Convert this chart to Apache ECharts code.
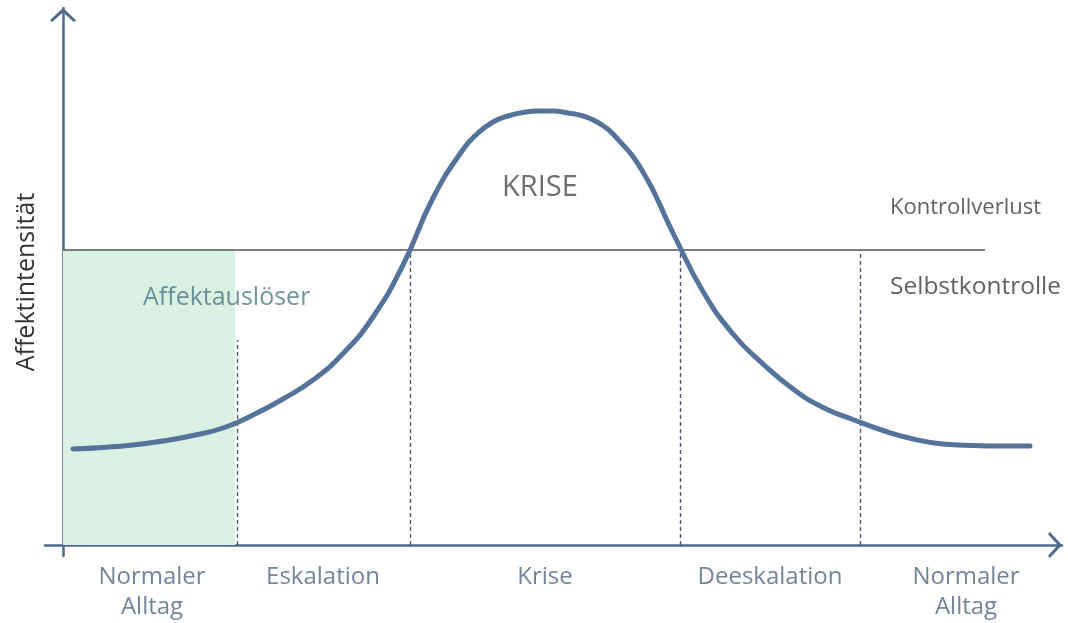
<!DOCTYPE html>
<html>
<head>
<meta charset="utf-8">
<script src="https://cdn.jsdelivr.net/npm/echarts@6/dist/echarts.min.js"></script>
<style>html,body{margin:0;padding:0;background:#fff}#c{width:1068px;height:623px}</style>
</head>
<body>
<div id="c"></div>
<script>
// Affect curve (x: time, y: affect intensity)
const curveX = [1.0, 4.0, 7.0, 10.0, 13.0, 16.0, 19.0, 22.0, 25.0, 28.0, 31.0, 34.0, 37.0, 40.0, 41.5, 43.0, 44.5, 46.0, 47.5, 49.0, 50.5, 52.0, 53.5, 55.0, 58.0, 61.0, 64.0, 67.0, 70.0, 73.0, 76.0, 79.0, 82.0, 85.0, 88.0, 91.0, 94.0, 96.7];
const curveY = [19.2, 19.5, 20.0, 20.8, 21.9, 23.4, 26.0, 29.2, 33.0, 38.3, 45.6, 56.0, 69.4, 79.1, 82.4, 84.6, 85.8, 86.5, 86.8, 86.8, 86.4, 85.8, 84.5, 82.2, 74.6, 62.4, 50.7, 42.2, 36.2, 31.2, 27.5, 25.1, 22.9, 21.2, 20.2, 19.9, 19.8, 19.8];
// Phases
const phaseNames = ['Normaler\nAlltag', 'Eskalation', 'Krise', 'Deeskalation', 'Normaler\nAlltag'];
const phaseLabelX = [8.9, 26.0, 48.2, 70.7, 90.3];
const phaseBounds = [17.4, 34.7, 61.7, 79.7];
const boundTops = [41, 59, 59, 59];
// Threshold (Kontrollverlust / Selbstkontrolle)
const threshold = 59;
const thresholdEnd = 92.2;
const triggerZoneEnd = 17.2;
// Annotations
const annoTexts = ['KRISE', 'Kontrollverlust', 'Selbstkontrolle', 'Affektauslöser'];
const annoX = [47.7, 82.7, 82.7, 8.0];
const annoY = [71.4, 67.4, 51.6, 49.4];
const yAxisName = 'Affektintensität';

const FONT = '"Open Sans", Lato, sans-serif';
const AXIS_COLOR = '#4f6a8c';
const chevron = 'path://M14,0 L28,13 L25.5,15 L14,4.5 L2.5,15 L0,13 Z';

const chart = echarts.init(document.getElementById('c'), null, {renderer: 'canvas'});

const boundLines = phaseBounds.map((b, i) => [{coord: [b, 0]}, {coord: [b, boundTops[i]]}]);

const annoStyles = [
  {color: '#4a4a4a', fontSize: 29, position: 'inside'},
  {color: '#3a3a3a', fontSize: 22, position: 'right'},
  {color: '#3a3a3a', fontSize: 24.5, position: 'right'},
  {color: '#4d7883', fontSize: 25, position: 'right'}
];

const option = {
  backgroundColor: '#fff',
  animation: false,
  grid: {left: 45, right: 6, top: 8, bottom: 67, outerBoundsMode: 'none', containLabel: false},
  xAxis: {
    type: 'value', min: -1.8, max: 99.9,
    splitLine: {show: false}, axisTick: {show: false}, axisLabel: {show: false},
    axisLine: {show: true, onZero: true, symbol: ['none', chevron], symbolSize: [28, 14], symbolOffset: [0, -7],
      lineStyle: {color: AXIS_COLOR, width: 2.5}}
  },
  yAxis: {
    type: 'value', min: -2.2, max: 107.4,
    name: yAxisName, nameLocation: 'middle', nameRotate: 90, nameGap: 6,
    nameTextStyle: {color: '#333', fontSize: 25, fontFamily: FONT},
    splitLine: {show: false}, axisTick: {show: false}, axisLabel: {show: false},
    axisLine: {show: true, onZero: true, symbol: ['none', chevron], symbolSize: [28, 14], symbolOffset: [0, -7],
      lineStyle: {color: AXIS_COLOR, width: 2.5}}
  },
  series: [
    {
      type: 'line', data: [], z: 1, silent: true,
      markArea: {silent: true, itemStyle: {color: '#d8f1e3'},
        data: [[{coord: [0, 0]}, {coord: [triggerZoneEnd, threshold]}]]}
    },
    {
      type: 'line', data: [], z: 2, silent: true,
      markLine: {silent: true, symbol: 'none', label: {show: false},
        lineStyle: {color: '#4a5872', width: 1.4, type: [4, 3]},
        data: boundLines}
    },
    {
      type: 'line', data: [], z: 3, silent: true,
      markLine: {silent: true, symbol: 'none', label: {show: false},
        lineStyle: {color: '#555', width: 1.5, type: 'solid'},
        data: [[{coord: [0, threshold]}, {coord: [thresholdEnd, threshold]}]]}
    },
    {
      type: 'line', z: 5, silent: true, smooth: 0.5, symbol: 'none',
      lineStyle: {color: '#55729b', width: 5, cap: 'round'},
      data: curveX.map((x, i) => [x, curveY[i]])
    },
    {
      type: 'scatter', z: 6, silent: true, symbolSize: 0,
      data: phaseLabelX.map((x, i) => ({value: [x, 0], name: phaseNames[i]})),
      label: {show: true, position: 'bottom', distance: 17, formatter: p => p.name,
        color: '#4f6580', fontSize: 24, fontFamily: FONT, lineHeight: 30, align: 'center'}
    },
    {
      type: 'scatter', z: 6, silent: true, symbolSize: 0,
      data: annoTexts.map((t, i) => ({value: [annoX[i], annoY[i]], name: t,
        label: {show: true, position: annoStyles[i].position, distance: 0, formatter: t,
          color: annoStyles[i].color, fontSize: annoStyles[i].fontSize, fontFamily: FONT}}))
    }
  ]
};
chart.setOption(option);
</script>
</body>
</html>
